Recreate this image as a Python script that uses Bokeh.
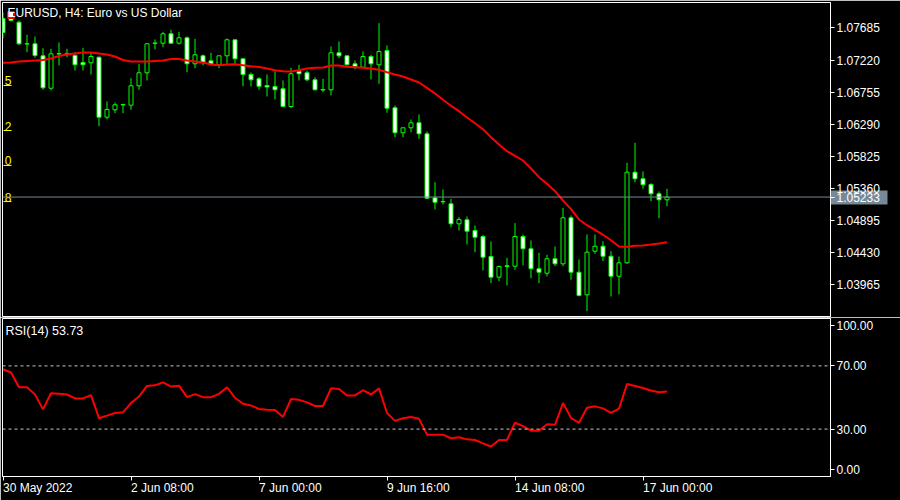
from bokeh.plotting import figure
from bokeh.models import (Range1d, LinearAxis, FixedTicker, PrintfTickFormatter,
                          Span, Label, ColumnDataSource)
from bokeh.layouts import column
from bokeh.embed import file_html
from bokeh.resources import INLINE
from bokeh.core.properties import value

# ---------------- data (EURUSD H4) ----------------
opens = [1.07822, 1.07866, 1.07768, 1.07455, 1.07455, 1.07281, 1.06811, 1.07307, 1.07310, 1.07286,
         1.07184, 1.07180, 1.07261, 1.06391, 1.06498, 1.06568, 1.06565, 1.06846, 1.07035, 1.07460,
         1.07464, 1.07600, 1.07464, 1.07542, 1.07165, 1.07281, 1.07209, 1.07151, 1.07281, 1.07513,
         1.07238, 1.07010, 1.06948, 1.06851, 1.06836, 1.06803, 1.06546, 1.07054, 1.07035, 1.06933,
         1.06785, 1.06788, 1.07325, 1.07281, 1.07165, 1.07116, 1.07271, 1.07151, 1.07358, 1.06527,
         1.06165, 1.06237, 1.06310, 1.06150, 1.05222, 1.05169, 1.05135, 1.04845, 1.04903, 1.04748,
         1.04661, 1.04371, 1.04071, 1.04236, 1.04230, 1.04661, 1.04483, 1.04193, 1.04129, 1.04338,
         1.04265, 1.04932, 1.04143, 1.03816, 1.04448, 1.04520, 1.04375, 1.04085, 1.04280, 1.05593,
         1.05498, 1.05415, 1.05280, 1.05193]
highs = [1.07909, 1.07909, 1.07793, 1.07586, 1.07561, 1.07391, 1.07383, 1.07474, 1.07383, 1.07333,
         1.07397, 1.07333, 1.07271, 1.06619, 1.06604, 1.06585, 1.06956, 1.07165, 1.07464, 1.07518,
         1.07629, 1.07658, 1.07629, 1.07561, 1.07528, 1.07300, 1.07325, 1.07281, 1.07532, 1.07513,
         1.07238, 1.07039, 1.06971, 1.07010, 1.07058, 1.06923, 1.07107, 1.07151, 1.07068, 1.06971,
         1.06948, 1.07416, 1.07489, 1.07281, 1.07213, 1.07344, 1.07296, 1.07754, 1.07431, 1.06561,
         1.06237, 1.06358, 1.06430, 1.06184, 1.05448, 1.05343, 1.05208, 1.04941, 1.04951, 1.04821,
         1.04686, 1.04589, 1.04241, 1.04352, 1.04854, 1.04690, 1.04603, 1.04425, 1.04396, 1.04516,
         1.05077, 1.04966, 1.04328, 1.04690, 1.04690, 1.04593, 1.04448, 1.04371, 1.05730, 1.06020,
         1.05604, 1.05434, 1.05314, 1.05353]
lows = [1.07532, 1.07779, 1.07438, 1.07333, 1.07252, 1.06788, 1.06778, 1.07141, 1.07261, 1.07068,
        1.07068, 1.07010, 1.06260, 1.06358, 1.06449, 1.06449, 1.06498, 1.06788, 1.06923, 1.07373,
        1.07406, 1.07460, 1.07445, 1.07043, 1.07101, 1.07141, 1.07151, 1.07101, 1.07165, 1.07165,
        1.06840, 1.06836, 1.06788, 1.06691, 1.06648, 1.06536, 1.06521, 1.06923, 1.06913, 1.06778,
        1.06753, 1.06706, 1.07246, 1.07141, 1.07083, 1.07116, 1.06938, 1.06875, 1.06455, 1.06101,
        1.06101, 1.06173, 1.06078, 1.05208, 1.05053, 1.05125, 1.04796, 1.04748, 1.04545, 1.04433,
        1.04168, 1.03984, 1.04013, 1.03951, 1.04178, 1.04241, 1.04056, 1.03984, 1.04085, 1.04230,
        1.04230, 1.04033, 1.03791, 1.03578, 1.04410, 1.04303, 1.03791, 1.03820, 1.04265, 1.05448,
        1.05353, 1.05173, 1.04926, 1.05100]
closes = [1.07619, 1.07793, 1.07455, 1.07452, 1.07286, 1.06817, 1.07310, 1.07315, 1.07315, 1.07151,
          1.07151, 1.07271, 1.06391, 1.06503, 1.06571, 1.06575, 1.06846, 1.07035, 1.07455, 1.07467,
          1.07600, 1.07464, 1.07542, 1.07165, 1.07296, 1.07184, 1.07165, 1.07281, 1.07513, 1.07238,
          1.07010, 1.06933, 1.06840, 1.06829, 1.06788, 1.06546, 1.07020, 1.07020, 1.06933, 1.06788,
          1.06793, 1.07325, 1.07281, 1.07151, 1.07126, 1.07271, 1.07165, 1.07344, 1.06521, 1.06165,
          1.06237, 1.06310, 1.06150, 1.05216, 1.05158, 1.05164, 1.04845, 1.04908, 1.04738, 1.04651,
          1.04361, 1.04071, 1.04226, 1.04226, 1.04661, 1.04483, 1.04193, 1.04143, 1.04338, 1.04265,
          1.04932, 1.04143, 1.03806, 1.04433, 1.04520, 1.04375, 1.04085, 1.04280, 1.05593, 1.05498,
          1.05411, 1.05280, 1.05193, 1.05233]
ma = [1.07180, 1.07184, 1.07199, 1.07206, 1.07213, 1.07220, 1.07242, 1.07278, 1.07300, 1.07315,
      1.07329, 1.07329, 1.07315, 1.07300, 1.07271, 1.07220, 1.07199, 1.07199, 1.07199, 1.07206,
      1.07213, 1.07235, 1.07235, 1.07213, 1.07199, 1.07184, 1.07155, 1.07145, 1.07155, 1.07159,
      1.07145, 1.07130, 1.07119, 1.07097, 1.07072, 1.07058, 1.07054, 1.07072, 1.07097, 1.07107,
      1.07112, 1.07141, 1.07141, 1.07122, 1.07116, 1.07107, 1.07097, 1.07078, 1.07043, 1.07010,
      1.06981, 1.06938, 1.06894, 1.06817, 1.06735, 1.06643, 1.06556, 1.06478, 1.06387, 1.06304,
      1.06217, 1.06101, 1.05995, 1.05898, 1.05831, 1.05763, 1.05647, 1.05521, 1.05425, 1.05318,
      1.05183, 1.05057, 1.04908, 1.04825, 1.04758, 1.04686, 1.04607, 1.04516, 1.04512, 1.04526,
      1.04531, 1.04545, 1.04560, 1.04578]
rsi = [67.9, 65.8, 56.5, 56.5, 51.9, 42.5, 52.7, 52.3, 51.9, 49.4,
       49.4, 51.5, 36.9, 38.5, 40.2, 40.6, 46.5, 50.6, 57.3, 57.7,
       59.6, 56.9, 57.5, 50.2, 52.1, 50.2, 50.2, 52.3, 56.5, 49.8,
       46.0, 45.0, 42.7, 42.3, 42.1, 37.7, 49.0, 48.5, 46.9, 44.6,
       44.6, 55.8, 55.4, 51.3, 51.3, 54.6, 51.9, 55.8, 40.2, 35.2,
       36.9, 37.7, 36.5, 26.5, 26.5, 26.5, 24.2, 24.8, 23.5, 23.1,
       21.0, 19.0, 23.1, 23.1, 34.0, 31.9, 29.0, 29.0, 33.1, 32.7,
       46.5, 37.1, 34.0, 43.5, 44.4, 43.1, 40.2, 42.9, 58.5, 57.3,
       56.0, 54.4, 53.3, 53.73]

price_ticks = [1.03965, 1.04430, 1.04895, 1.05360, 1.05825, 1.06290, 1.06755, 1.07220, 1.07685]
time_tick_bars = [0, 16, 32, 48, 64, 80]
time_tick_labels = ["30 May 2022", "2 Jun 08:00", "7 Jun 00:00", "9 Jun 16:00",
                    "14 Jun 08:00", "17 Jun 00:00"]
rsi_levels = [30, 70]
rsi_scale_labels = ["0.00", "30.00", "70.00", "100.00"]
last_price = 1.05233
last_rsi = 53.73
level_prices = [1.06851, 1.06198, 1.05691, 1.05168]
level_digits = ["5", "2", "0", "8"]
mark_bars = [1]
mark_prices = [1.07873]

# ---------------- styling ----------------
FONT = "Liberation Sans"
FS = "12px"
GREEN = "#00ff00"
W = 900
BL, BR = 2, 70          # left / right borders (px)
BAR = 8                 # px per bar
x0 = -0.0625
x1 = x0 + (W - BL - BR) / BAR

# Liberation Sans advance widths (per 1000 em) for left-aligned time labels
CW = {d: 556 for d in "0123456789"}
CW.update({" ": 278, ":": 278, "M": 833, "a": 556, "y": 500, "J": 500, "u": 556, "n": 556})


def text_px(s, size=12):
    return sum(CW.get(ch, 556) for ch in s) * size / 1000.0


def xpx(page_x):
    """bar coordinate of a page pixel column (for in-frame annotations)"""
    return x0 + (page_x - BL) / BAR


n = len(closes)
idx = list(range(n))
top = [max(o, c) for o, c in zip(opens, closes)]
bot = [min(o, c) for o, c in zip(opens, closes)]
fill = ["black" if c > o else "white" for o, c in zip(opens, closes)]
src = ColumnDataSource(dict(x=idx, h=highs, l=lows, top=top, bot=bot, fill=fill, ma=ma, rsi=rsi))

xr = Range1d(x0, x1)


def style_axis(ax, tick_out=4, standoff=2):
    ax.axis_line_color = "white"
    ax.major_tick_line_color = "white"
    ax.major_tick_in = 0
    ax.major_tick_out = tick_out
    ax.minor_tick_line_color = None
    ax.major_label_standoff = standoff
    ax.major_label_text_color = "white"
    ax.major_label_text_font = FONT
    ax.major_label_text_font_size = FS


# ---------------- main price panel ----------------
p = figure(width=W, height=317, x_range=xr, y_range=Range1d(1.03501, 1.08054),
           output_backend="svg", toolbar_location=None, tools="",
           x_axis_location=None, y_axis_location=None,
           background_fill_color="black", border_fill_color="black",
           min_border_left=BL, min_border_right=BR, min_border_top=2, min_border_bottom=1)
p.grid.visible = False
p.outline_line_color = "white"
p.outline_line_width = 1

p.add_layout(Span(location=last_price, dimension="width", line_color="#778899", line_width=1))
p.segment(x0="x", y0="l", x1="x", y1="h", source=src, line_color=GREEN, line_width=1)
p.vbar(x="x", top="top", bottom="bot", width=0.5, source=src,
       fill_color="fill", line_color=GREEN, line_width=1)
p.line(x="x", y="ma", source=src, line_color="#ff0000", line_width=2)

# yellow partial level labels at the left edge
p.text(x=[xpx(11)] * len(level_prices), y=level_prices, text=level_digits,
       text_color="#ffff00", text_align="right", text_baseline="bottom",
       text_font=value(FONT), text_font_size=FS)
p.segment(x0=[xpx(3)] * len(level_prices), y0=level_prices,
          x1=[xpx(11)] * len(level_prices), y1=level_prices, line_color="#ffff00", line_width=1)

# small trade mark at the top-left
p.scatter(x=mark_bars, y=mark_prices, marker="square", size=6,
          fill_color="white", line_color="#ff0000", line_width=2)

# grey box behind the current price on the scale (a thick, outward tick)
box_ax = LinearAxis(ticker=FixedTicker(ticks=[last_price]),
                    major_label_overrides={last_price: ""})
box_ax.axis_line_color = None
box_ax.minor_tick_line_color = None
box_ax.major_tick_line_color = "#778899"
box_ax.major_tick_line_width = 14
box_ax.major_tick_in = -57
box_ax.major_tick_out = 0
box_ax.major_label_standoff = 0
box_ax.major_label_text_font_size = "0px"
p.add_layout(box_ax, "right")

pax = LinearAxis(ticker=FixedTicker(ticks=price_ticks + [last_price]),
                 formatter=PrintfTickFormatter(format="%.5f"))
style_axis(pax)
p.add_layout(pax, "right")

p.add_layout(Label(x=xpx(7), y=1.07909, text="EURUSD, H4:  Euro vs US Dollar",
                   text_color="white", text_font=FONT, text_font_size="12px",
                   text_baseline="middle", text_align="left"))

# ---------------- RSI panel ----------------
r = figure(width=W, height=183, x_range=xr, y_range=Range1d(0, 100),
           output_backend="svg", toolbar_location=None, tools="",
           x_axis_location=None, y_axis_location=None,
           background_fill_color="black", border_fill_color="black",
           min_border_left=BL, min_border_right=BR, min_border_top=1, min_border_bottom=24)
r.grid.visible = False
r.outline_line_color = "white"
r.outline_line_width = 1

for lv in rsi_levels:
    r.add_layout(Span(location=lv, dimension="width", line_color="#c8c8c8",
                      line_dash="3 3", line_width=1))
r.line(x="x", y="rsi", source=src, line_color="#ff0000", line_width=2)

# scale labels: 0 and 100 are pulled inside the panel, as the terminal does
rsi_label_pos = [4.4, 30.0, 70.0, 95.6]
rax = LinearAxis(ticker=FixedTicker(ticks=rsi_label_pos),
                 major_label_overrides=dict(zip(rsi_label_pos, rsi_scale_labels)))
style_axis(rax)
r.add_layout(rax, "right")

# time scale: tick marks at the bars, labels starting at the tick
label_centres = [t + text_px(s) / 2.0 / BAR for t, s in zip(time_tick_bars, time_tick_labels)]
bax = LinearAxis(ticker=FixedTicker(ticks=label_centres, minor_ticks=time_tick_bars),
                 major_label_overrides=dict(zip(label_centres, time_tick_labels)))
bax.axis_line_color = "white"
bax.major_tick_line_color = None
bax.major_tick_in = 0
bax.major_tick_out = 4
bax.minor_tick_line_color = "white"
bax.minor_tick_in = 0
bax.minor_tick_out = 4
bax.major_label_standoff = 0
bax.major_label_text_color = "white"
bax.major_label_text_font = FONT
bax.major_label_text_font_size = FS
r.add_layout(bax, "below")

r.add_layout(Label(x=xpx(5), y=92.4, text=f"RSI(14) {last_rsi:.2f}",
                   text_color="white", text_font=FONT, text_font_size="12.5px",
                   text_baseline="middle", text_align="left"))

layout = column(p, r)
open("out.html", "w").write(file_html(layout, INLINE))
